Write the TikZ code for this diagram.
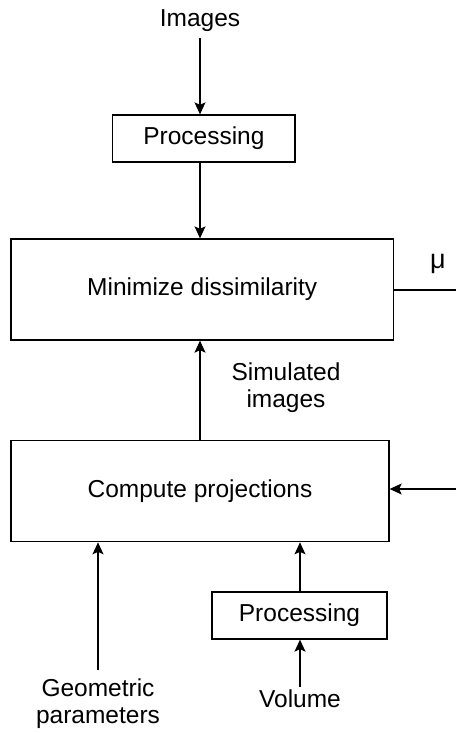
\documentclass[tikz,border=0pt]{standalone}
\usepackage{fontspec}
\setmainfont{Liberation Sans}
\usetikzlibrary{arrows.meta,calc}
\tikzset{
  txt/.style={font=\fontsize{24.5}{27}\selectfont, inner sep=0pt, align=center},
  box/.style={txt, draw, line width=1.3pt},
  arr/.style={line width=1.3pt, -{Stealth[length=12pt,width=11pt,inset=2.5pt]}},
  ln/.style={line width=1.3pt}
}
\begin{document}
\begin{tikzpicture}[x=1pt,y=-1pt]
\useasboundingbox (0,0) rectangle (456,733);
% nodes
\node[txt, anchor=base] (img) at (200,27) {Images};
\node[box, minimum width=182.3pt, minimum height=47pt] (p1) at (203.9,138.5) {Processing};
\node[box, minimum width=382.5pt, minimum height=101pt] (min) at (202.25,289.5) {Minimize dissimilarity};
\node[txt, anchor=base, font=\fontsize{27}{30}\selectfont] (mu) at (438,268) {μ};
\node[txt] (sim) at (286,388) {Simulated\\images};
\node[box, minimum width=378pt, minimum height=101.4pt] (cmp) at (200,491) {Compute projections};
\node[box, minimum width=175pt, minimum height=47pt] (p2) at (299.5,615.5) {Processing};
\node[txt] (geo) at (98,704) {Geometric\\parameters};
\node[txt, anchor=base] (vol) at (300,707) {Volume};
\coordinate (out) at (456,290);
\coordinate (in) at (456,489);
\coordinate (a1) at (200,38);
% connectors
\draw[arr] (a1) -- (a1 |- p1.north);
\draw[arr] (a1 |- p1.south) -- (a1 |- min.north);
\draw[arr] (a1 |- cmp.north) -- (a1 |- min.south);
\draw[ln] (min.east |- out) -- (out);
\draw[arr] (in) -- (in -| cmp.east);
\draw[arr] ($(geo.north)+(0,-9)$) -- (geo.north |- cmp.south);
\draw[arr] (p2.north -| vol.north) -- (vol.north |- cmp.south);
\draw[arr] ($(vol.north)+(0,-2)$) -- (vol.north |- p2.south);
\end{tikzpicture}
\end{document}
